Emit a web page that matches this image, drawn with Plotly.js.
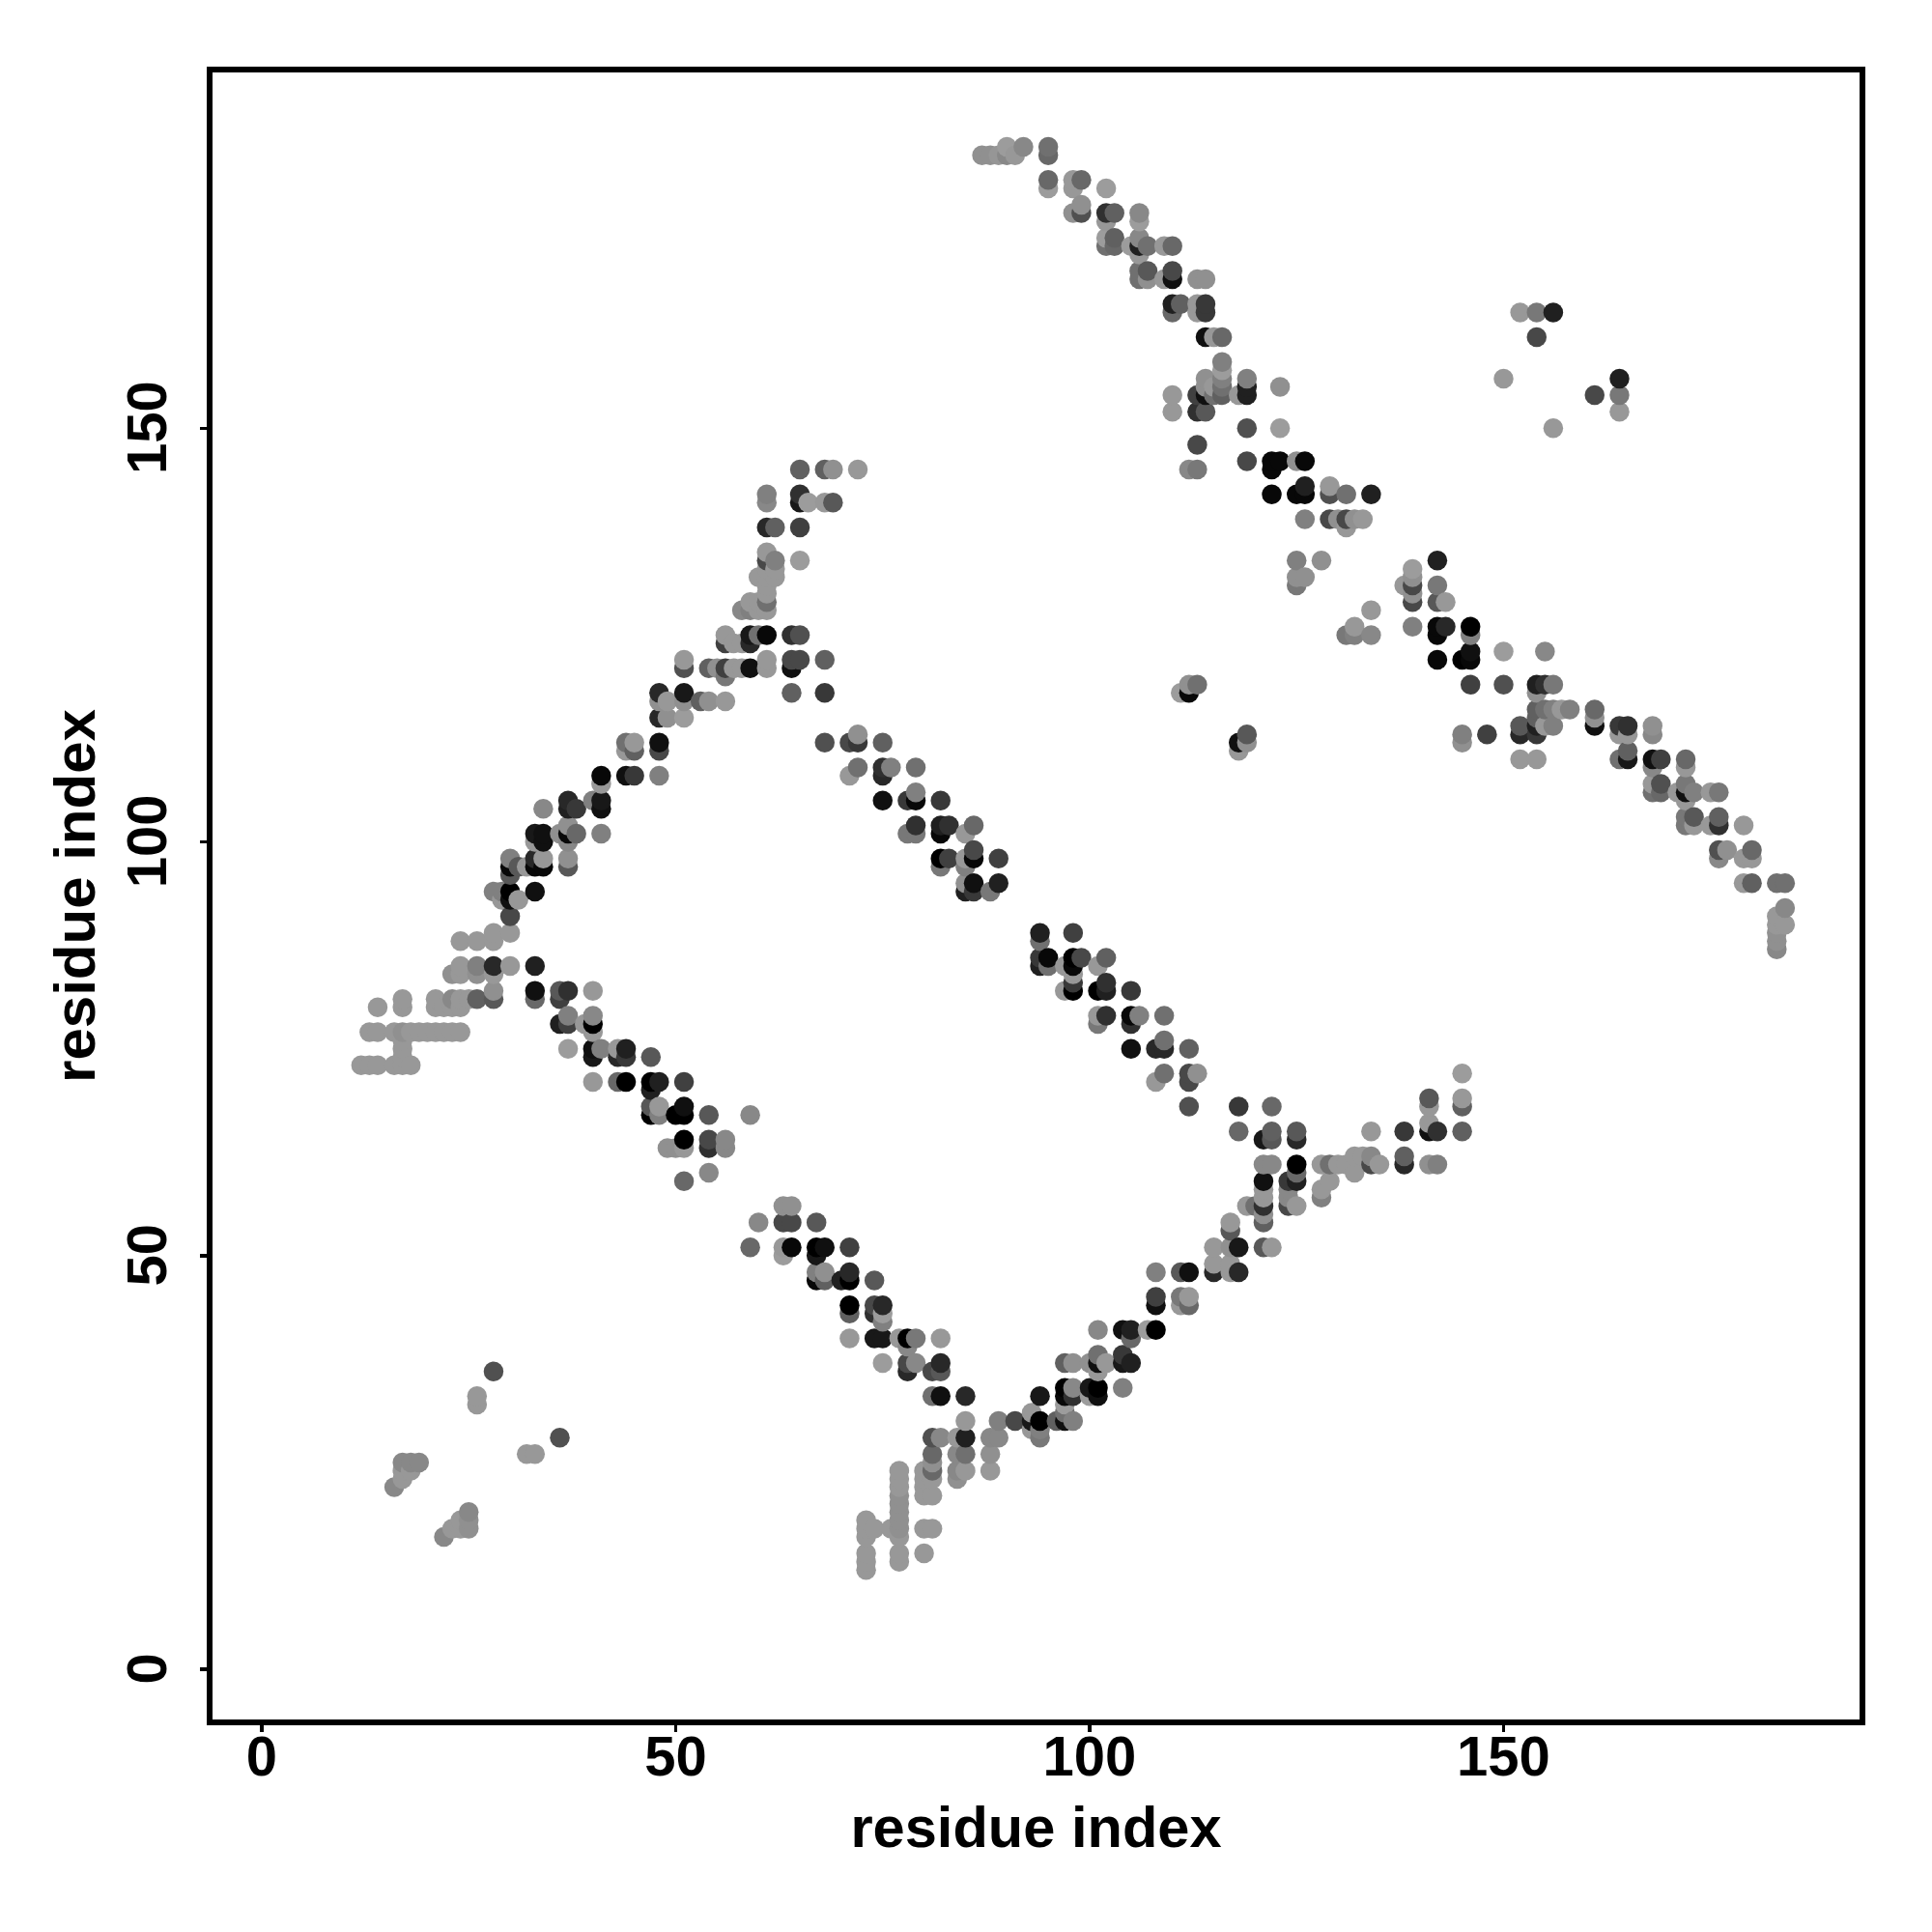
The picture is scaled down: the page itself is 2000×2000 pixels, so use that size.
<!DOCTYPE html>
<html>
<head>
<meta charset="utf-8">
<script src="https://cdn.plot.ly/plotly-3.0.1.min.js"></script>
<style>html,body{margin:0;padding:0;background:#fff}</style>
</head>
<body>
<div id="chart" style="width:2000px;height:2000px"></div>
<script>
// each contact: [residue i, residue j, shade (0 = black, 255 = white)]
const topBand = [
[87,183,0x90],[88,183,0x90],[89,183,0x96],[90,183,0x88],[90,184,0x9c],[91,183,0x98],[92,184,0x88],[95,183,0x68],[95,184,0x70],
[95,179,0x9c],[95,180,0x68],[98,179,0x98],[98,180,0x98],[99,180,0x68],[102,179,0x9c],[98,176,0x90],[99,176,0x50],[99,177,0x90],
[102,176,0x30],[103,176,0x60],[102,175,0x98],[106,176,0x88],[106,175,0x9c],[102,173,0x9c],[103,173,0x60],[102,172,0x70],[103,172,0x68],
[105,172,0x9c],[106,172,0x20],[106,173,0x88],[107,172,0x70],[106,171,0x98],[109,172,0x98],[110,172,0x68],
[106,169,0x70],[106,168,0x70],[107,169,0x58],[107,168,0x90],[109,168,0x98],[110,169,0x48],[110,168,0x10],[113,168,0x90],[114,168,0x90],
[110,165,0x20],[110,164,0x68],[111,165,0x60],[113,165,0x98],[113,164,0x98],[114,165,0x38],[114,164,0x38],
[114,161,0x10],[115,161,0x98],[116,161,0x68],
[116,158,0x80],[116,157,0x9c],[116,156,0x80],[116,155,0x70],[116,154,0x60],[115,155,0x98],[114,156,0x90],[114,155,0x90],
[113,154,0x40],[114,154,0x10],[115,154,0x70],[110,154,0x98],[110,152,0x98],[113,152,0x30],[114,152,0x58],
[118,154,0x98],[119,154,0x20],[119,155,0x20],[119,156,0x80],[123,155,0x90],[119,150,0x50],[123,150,0x9c],[113,148,0x48],
[119,146,0x48],[122,146,0x08],[123,146,0x08],[122,145,0x08],[125,146,0x90],[126,146,0x08],[112,145,0x88],[113,145,0x78],
[122,142,0x08],[125,142,0x08],[126,142,0x08],[126,143,0x20],[129,143,0x98],[129,142,0x50],[131,142,0x70],[134,142,0x20]
];
const midBand = [
[126,139,0x80],[129,139,0x48],[130,139,0x90],[131,139,0x48],[132,139,0x90],[133,139,0x98],[131,138,0x98],
[125,134,0x80],[128,134,0x90],[142,134,0x20],[139,133,0x9c],[139,132,0x90],[125,132,0x90],[126,132,0x90],[125,131,0x78],
[138,131,0x98],[139,131,0x48],[139,130,0x90],[139,129,0x48],[142,131,0x78],[142,129,0x58],[143,129,0x98],[134,128,0x98],
[139,126,0x80],[131,125,0x78],[132,126,0x98],[132,125,0x80],[134,125,0x88],
[142,126,0x08],[143,126,0x28],[142,125,0x08],[146,126,0x00],[146,125,0x80],[150,123,0x9c],[155,123,0x88],
[142,122,0x08],[145,122,0x00],[146,122,0x08],[146,123,0x10],[146,119,0x40],[150,119,0x50]
];
const sideIslands = [
[112,119,0x90],[113,119,0x70],[112,118,0x08],[111,118,0x9c],[118,112,0x10],[119,113,0x58],[119,112,0x90],[118,111,0x98],
[152,164,0x98],[154,164,0x78],[156,164,0x20],[154,161,0x48],[150,156,0x98],[164,156,0x20],[164,154,0x78],[161,154,0x48],[164,152,0x98],[156,150,0x98]
];
const tailBand = [
[154,119,0x20],[155,119,0x30],[156,119,0x78],[154,118,0x90],
[154,116,0x60],[155,116,0x70],[156,116,0x80],[157,116,0x98],[158,116,0x80],[154,115,0x60],[154,114,0x20],[155,114,0x98],[156,114,0x80],[152,114,0x58],
[152,113,0x28],[154,113,0x38],[148,113,0x40],[145,113,0x80],[145,112,0x90],[152,110,0x98],[154,110,0x98],
[161,116,0x68],[161,115,0x90],[161,114,0x10],[164,114,0x38],[164,113,0x98],[165,114,0x30],[165,113,0x98],[168,114,0x90],[168,113,0x88],
[164,110,0x70],[165,111,0x60],[165,110,0x18],[168,110,0x10],[169,110,0x40],[168,109,0x88],[172,110,0x68],[172,109,0x98],
[168,107,0x98],[168,106,0x70],[169,107,0x50],[169,106,0x68],[171,106,0x98],[172,107,0x78],[172,106,0x10],[172,105,0x98],[173,106,0x80],[175,106,0x98],[176,106,0x78],
[172,103,0x78],[172,102,0x78],[173,103,0x58],[173,102,0x98],[175,102,0x98],[176,103,0x60],[176,102,0x30],[179,102,0x98],
[176,99,0x50],[176,98,0x88],[177,99,0x90],[180,99,0x68],[179,98,0x98],[180,98,0x98],
[179,95,0x98],[180,95,0x60],[183,95,0x70],[184,95,0x70],[184,92,0x88],[183,91,0x98],[183,90,0x98],[184,90,0x98],[183,89,0x90],[183,88,0x90],[183,87,0x88]
];
const upperDiagonal = [
[68,112,0x50],[71,112,0x48],[72,112,0x38],[72,113,0x90],[75,112,0x60],[71,108,0x98],[72,109,0x70],[75,109,0x30],[75,108,0x28],[76,109,0x80],[79,109,0x70],
[75,105,0x10],[78,105,0x38],[79,105,0x08],[79,106,0x80],[82,105,0x38],[78,101,0x78],[79,101,0x78],[79,102,0x30],[82,102,0x20],[82,101,0x08],[83,102,0x30],[85,101,0x98],[86,102,0x68],
[82,98,0x00],[83,98,0x40],[85,98,0x98],[86,98,0x08],[86,99,0x48],[89,98,0x40],[82,97,0x78],[85,97,0x80],[85,95,0x90],[86,95,0x10],[89,95,0x20],[85,94,0x20],[86,94,0x38],[88,94,0x78],
[94,89,0x20],[98,89,0x40],[94,88,0x70],[94,86,0x38],[95,86,0x08],[94,85,0x20],[95,85,0x70],[97,85,0x98],[98,86,0x00],[98,85,0x08],[99,86,0x48],[101,85,0x98],[102,86,0x60],
[98,84,0x98],[98,83,0x38],[97,82,0x98],[98,82,0x00],[101,82,0x00],[102,82,0x20],[102,83,0x30],[105,82,0x38],
[101,79,0x98],[102,79,0x30],[105,79,0x08],[106,79,0x80],[109,79,0x70],[101,78,0x78],[105,78,0x30],
[105,75,0x10],[108,75,0x28],[109,75,0x28],[109,76,0x70],[112,75,0x60],[109,72,0x70],[112,72,0x48],[113,72,0x90],[108,71,0x98],[112,71,0x48],[112,68,0x50]
];
const ringRight = [
[118,68,0x38],[122,68,0x68],[118,65,0x68],[122,65,0x60],[125,65,0x58],[121,64,0x18],[122,64,0x58],[125,64,0x28],
[121,61,0x88],[122,61,0x88],[125,61,0x00],[128,61,0x98],[129,61,0x70],[130,61,0x98],[131,61,0x98],[132,62,0x98],[133,62,0x98],[134,62,0x88],[134,61,0x48],[135,61,0x98],[132,60,0x98],
[138,61,0x28],[138,62,0x60],[141,61,0x90],[142,61,0x80],[134,65,0x98],[138,65,0x38],[141,65,0x10],[141,66,0x98],[142,65,0x30],[141,68,0x98],[141,69,0x58],
[145,65,0x60],[145,68,0x60],[145,69,0x98],[145,72,0x9c],
[121,59,0x10],[124,59,0x38],[125,59,0x20],[125,60,0x68],[129,59,0x98],[121,58,0x98],[128,58,0x98],[121,57,0x98],[124,57,0x88],[124,58,0x88],[128,57,0x80],
[119,56,0x98],[120,56,0x70],[121,56,0x30],[124,56,0x48],[125,56,0x98],[121,55,0x90],[117,54,0x98],[121,54,0x60],[117,53,0x58],
[115,51,0x98],[117,51,0x90],[118,51,0x18],[121,51,0x58],[122,51,0x98],[115,49,0x98],[117,49,0x98],[115,48,0x28],[117,48,0x98],[118,48,0x28],
[108,48,0x80],[111,48,0x58],[112,48,0x10],[108,45,0x40],[111,45,0x78],[112,45,0x98],[108,44,0x10],[111,44,0x98],[112,44,0x68],
[101,41,0x88],[104,41,0x10],[105,41,0x20],[107,41,0x9c],[108,41,0x00],[105,40,0x68],[101,38,0x70],[104,38,0x38],
[97,37,0x60],[98,37,0x90],[100,37,0x90],[101,37,0x10],[102,37,0x98],[104,37,0x18],[105,37,0x20],[101,36,0x98],
[97,34,0x00],[98,34,0x88],[100,34,0x18],[101,34,0x00],[104,34,0x80],[94,33,0x18],[97,33,0x08],[98,33,0x30],[100,33,0x9c],[101,33,0x10],[97,32,0x9c],[93,31,0x98],[97,31,0x70],
[89,30,0x80],[91,30,0x48],[93,30,0x18],[94,30,0x00],[96,30,0x60],[97,30,0x10],[98,30,0x80],[93,29,0x98],[94,29,0x80],[94,28,0x78]
];
const lowerDiagonal = [
[28,85,0x28],[30,85,0x98],[33,85,0x20],[28,84,0x98],[28,82,0x90],[33,82,0x10],[36,82,0x58],[37,82,0x30],[40,82,0x98],[28,81,0x58],[33,81,0x68],[36,81,0x40],
[37,79,0x80],[40,79,0x88],[36,78,0x20],[37,78,0x40],[39,78,0x98],[40,78,0x00],[40,77,0x98],
[37,75,0x9c],[40,75,0x10],[41,75,0x80],[43,75,0x98],[44,75,0x20],[40,74,0x18],[43,74,0x28],[44,74,0x38],[47,74,0x58],
[40,71,0x98],[43,71,0x68],[44,71,0x00],[47,71,0x00],[48,71,0x20],[51,71,0x40],[47,70,0x20],
[47,68,0x58],[48,68,0x98],[51,68,0x10],[47,67,0x00],[48,67,0x80],[50,67,0x00],[51,67,0x00],[54,67,0x58],[59,67,0x88],
[51,64,0x00],[54,64,0x48],[56,64,0x88],[49,63,0x90],[50,63,0x90],[51,63,0x98],[54,63,0x30],[56,63,0x88],[54,60,0x88],[51,59,0x68],
[63,56,0x90],[64,56,0x90],[60,54,0x88],[63,54,0x48],[64,54,0x48],[67,54,0x58],[59,51,0x68],[63,51,0x98],[64,51,0x08],[67,51,0x00],[68,51,0x10],[71,51,0x40],[63,50,0x9c],[67,50,0x18],
[67,48,0x80],[68,48,0x90],[71,48,0x28],[67,47,0x08],[68,47,0x60],[70,47,0x20],[71,47,0x00],[74,47,0x58],
[71,44,0x00],[74,44,0x48],[75,44,0x28],[71,43,0x60],[74,43,0x30],[75,43,0x9c],[75,42,0x80],
[71,40,0x98],[74,40,0x18],[75,40,0x18],[77,40,0x98],[78,40,0x00],[79,40,0x78],[82,40,0x98],[78,39,0x88],
[75,37,0x9c],[78,37,0x48],[79,37,0x88],[78,36,0x28],[81,36,0x48],[82,36,0x58],[82,37,0x28],[81,33,0x70],[82,33,0x10],[85,33,0x28]
];
const lowerFringe = [
[85,30,0x98],[81,28,0x50],[82,28,0x88],[84,28,0x98],[85,28,0x20],[88,28,0x88],[89,28,0x88],[81,26,0x68],[84,26,0x88],[85,26,0x70],[88,26,0x90],[81,25,0x90],
[80,24,0x98],[81,24,0x68],[84,24,0x88],[85,24,0x98],[88,24,0x98],[80,23,0x98],[81,23,0x98],[84,23,0x90],[80,22,0x98],[80,21,0x98],[81,21,0x98],
[77,24,0x98],[77,23,0x98],[77,22,0x98],[77,21,0x90],[77,20,0x90],[77,19,0x90],[77,18,0x90],[77,17,0x90],[77,16,0x98],[77,14,0x98],[77,13,0x98],
[73,18,0x98],[73,17,0x98],[73,16,0x98],[73,14,0x98],[73,13,0x98],[73,12,0x98],[74,17,0x98],[76,17,0x98],[80,17,0x98],[81,17,0x98],[80,14,0x98]
];
const cornerIslands = [
[28,36,0x50],[26,33,0x98],[26,32,0x98],[36,28,0x50],[32,26,0x98],[33,26,0x98],[19,25,0x88],[17,25,0x88],[18,25,0x88],[17,24,0x98],[18,24,0x98],[17,23,0x98],[16,22,0x88],
[25,19,0x88],[24,18,0x98],[25,18,0x90],[25,17,0x90],[24,17,0x98],[23,17,0x98],[22,16,0x88]
];
const leftFringe = [
[12,73,0x98],[13,73,0x98],[14,73,0x98],[16,73,0x98],[17,73,0x98],[18,73,0x98],[17,74,0x98],[17,75,0x98],[17,76,0x98],
[13,77,0x98],[14,77,0x98],[16,77,0x98],[17,77,0x90],[18,77,0x98],[19,77,0x98],[20,77,0x98],[21,77,0x98],[22,77,0x98],[23,77,0x98],[24,77,0x98],
[14,80,0x98],[17,80,0x98],[17,81,0x98],[21,80,0x98],[21,81,0x98],[22,80,0x98],[23,80,0x98],[23,81,0x88],[24,80,0x98],[24,81,0x98],[25,81,0x98],[26,81,0x60],
[23,84,0x90],[24,84,0x98],[24,85,0x98],[26,84,0x90],[26,85,0x80],[24,88,0x98],[26,88,0x98],[28,88,0x98],[28,89,0x98],[30,89,0x98]
];
const upperArm = [
[30,91,0x48],[28,94,0x80],[29,94,0x80],[30,94,0x00],[33,94,0x10],[29,93,0x98],[30,93,0x10],[31,93,0x98],
[30,98,0x80],[30,97,0x08],[30,96,0x58],[31,97,0x58],[32,97,0x98],[33,98,0x28],[34,98,0x98],[33,97,0x08],[34,97,0x08],[37,98,0x90],[37,97,0x58],
[33,101,0x18],[34,101,0x10],[34,100,0x10],[33,100,0x98],[37,102,0x90],[36,101,0x90],[37,101,0x08],[38,101,0x68],[37,100,0x88],[41,101,0x80],
[34,104,0x88],[37,105,0x28],[37,104,0x20],[38,104,0x38],[40,105,0x80],[41,105,0x18],[41,104,0x10],[41,107,0x98],[41,108,0x08],[44,108,0x10],[45,108,0x38],[48,108,0x80],
[44,112,0x70],[45,112,0x98],[44,111,0x98],[45,111,0x60],[48,112,0x10],[48,111,0x48],[48,118,0x28],[48,117,0x90],[49,117,0x98],[48,115,0x28],[49,115,0x90],
[51,118,0x18],[51,117,0x90],[51,115,0x9c],[53,117,0x60],[54,117,0x90],[56,117,0x98],[51,122,0x98],[51,121,0x50],
[54,121,0x60],[55,121,0x90],[56,121,0x40],[57,121,0x98],[58,121,0x98],[59,121,0x10],[56,120,0x78],[61,122,0x98],[61,121,0x98],[64,122,0x48],[65,122,0x48],[68,122,0x60],[64,121,0x10],
[64,118,0x60],[68,118,0x38],[56,125,0x98],[59,125,0x18],[60,125,0x70],[61,125,0x08],[64,125,0x30],[65,125,0x50],[56,124,0x40],[57,124,0x98],[58,124,0x98],[59,124,0x28],
[65,145,0x60],[68,145,0x60],[69,145,0x90],[72,145,0x98],[61,142,0x80],[61,141,0x88],[65,142,0x30],[65,141,0x18],[66,141,0x9c],[68,141,0x98],[69,141,0x58],
[61,138,0x28],[62,138,0x60],[65,138,0x40],[61,135,0x98],[61,134,0x48],[62,134,0x80],[65,134,0x9c],[61,133,0x98],[62,133,0x98],[60,132,0x98],[61,132,0x98],[62,132,0x98],
[61,131,0x98],[61,130,0x98],[61,129,0x70],[59,129,0x98],[60,129,0x98],[58,128,0x88],[59,128,0x80],[60,128,0x98],[61,128,0x98]
];
const tickValues = [0, 50, 100, 150];
const tickLabels = ['0', '50', '100', '150'];
const xTitle = 'residue index';
const yTitle = 'residue index';

// later points paint over earlier ones: by x, then by y
const contacts = [].concat(topBand, midBand, sideIslands, tailBand, upperDiagonal, ringRight,
  lowerDiagonal, lowerFringe, cornerIslands, leftFringe, upperArm)
  .sort((a, b) => a[0] - b[0] || a[1] - b[1]);

const family = '"Liberation Sans", Arial, sans-serif';
const axis = {
  tickmode: 'array', tickvals: tickValues, ticktext: tickLabels,
  ticks: 'outside', ticklen: 7, tickwidth: 3.5, tickcolor: '#000',
  showline: true, mirror: true, linewidth: 6, linecolor: '#000',
  showgrid: false, zeroline: false, automargin: false,
  tickfont: {family: family, size: 58, color: '#000', weight: 700}
};
Plotly.newPlot('chart', [{
  type: 'scatter', mode: 'markers',
  x: contacts.map(c => c[0]), y: contacts.map(c => c[1]),
  marker: {size: 20.5, color: contacts.map(c => c[2]), cmin: 0, cmax: 255,
    colorscale: [[0, '#000'], [1, '#fff']], showscale: false, line: {width: 0}},
  hoverinfo: 'x+y'
}], {
  width: 2000, height: 2000, showlegend: false,
  paper_bgcolor: '#fff', plot_bgcolor: '#fff',
  margin: {l: 220, r: 75, t: 75, b: 220, pad: 0},
  xaxis: Object.assign({}, axis, {range: [-5.95, 193],
    ticklabelstandoff: -25,
    title: {text: xTitle, standoff: 23.5, font: {family: family, size: 59.6, color: '#000', weight: 700}}}),
  yaxis: Object.assign({}, axis, {range: [-6.07, 193], tickangle: -90,
    // a trailing no-break space centres the rotated digits on their tick
    ticktext: tickLabels.map(t => t + '\u00a0'),
    ticklabelstandoff: 12,
    title: {text: yTitle, standoff: 3, font: {family: family, size: 60, color: '#000', weight: 700}}})
}, {displayModeBar: false, staticPlot: true});
</script>
</body>
</html>
